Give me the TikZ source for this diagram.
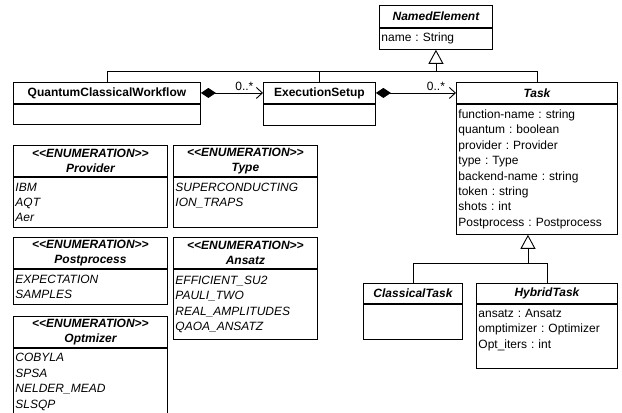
\documentclass[tikz,border=0pt]{standalone}
\usepackage{fontspec}
\setmainfont{Liberation Sans}
\frenchspacing
\usetikzlibrary{arrows.meta,positioning}
\newcommand{\estereotipo}[1]{<\kern0pt<#1>\kern0pt>}
\tikzset{
    umltitle/.style={draw,anchor=north west,inner sep=0pt,minimum height=21bp,align=center,font=\bfseries},
    umlabstract/.style={umltitle,font=\bfseries\itshape},
    umlenum/.style={umltitle,minimum height=31bp,font=\bfseries\itshape},
    umlattrs/.style={draw,below=0pt of #1,inner xsep=2bp,inner ysep=2bp,align=left},
    umlitems/.style={umlattrs=#1,font=\itshape},
    composicion/.style={draw,{Diamond[length=15bp,width=10bp]}-{Straight Barb[length=6bp,width=11bp]}},
    herencia/.style={draw,-{Triangle[open,length=14bp,width=15bp,fill=white]}},
    mult/.style={above,inner sep=1.5bp},
}
\begin{document}
\begin{tikzpicture}[
    x=1bp, y=-1bp, line width=0.9bp,
    every node/.style={node font=\fontsize{12bp}{15.4bp}\selectfont},
]
    \useasboundingbox (0,0) rectangle (622,412);
    \node [umlabstract,minimum width=113bp,minimum height=22bp] (ne) at (379,5) {NamedElement};
    \node [umlattrs=ne,text width=109bp,minimum height=21bp] (ne-attrs) {name : String};
    \node [umltitle,minimum width=187bp] (qcw) at (13,82) {QuantumClassicalWorkflow};
    \node [umlattrs=qcw,text width=183bp,minimum height=20bp] (qcw-attrs) {};
    \node [umltitle,minimum width=112bp] (es) at (263,82) {ExecutionSetup};
    \node [umlattrs=es,text width=108bp,minimum height=21bp] (es-attrs) {};
    \node [umlabstract,minimum width=161bp] (task) at (456,82) {Task};
    \node [umlattrs=task,text width=157bp,minimum height=130bp] (task-attrs) {function-name : string\\quantum : boolean\\provider : Provider\\type : Type\\backend-name : string\\token : string\\shots : int\\Postprocess : Postprocess};
    \node [umlenum,minimum width=154bp] (provider) at (13,145) {\estereotipo{ENUMERATION}\\Provider};
    \node [umlitems=provider,text width=150bp,minimum height=50bp] (provider-items) {IBM\\AQT\\Aer};
    \node [umlenum,minimum width=144bp] (type) at (173,145) {\estereotipo{ENUMERATION}\\Type};
    \node [umlitems=type,text width=140bp,minimum height=50bp] (type-items) {SUPERCONDUCTING\\ION\_TRAPS\\\mbox{}};
    \node [umlenum,minimum width=154bp] (postprocess) at (13,237) {\estereotipo{ENUMERATION}\\Postprocess};
    \node [umlitems=postprocess,text width=150bp,minimum height=35bp] (postprocess-items) {EXPECTATION\\SAMPLES};
    \node [umlenum,minimum width=144bp] (ansatz) at (173,237) {\estereotipo{ENUMERATION}\\Ansatz};
    \node [umlitems=ansatz,text width=140bp,minimum height=70bp] (ansatz-items) {EFFICIENT\_SU2\\PAULI\_TWO\\REAL\_AMPLITUDES\\QAOA\_ANSATZ};
    \node [umlenum,minimum width=154bp] (optmizer) at (13,316) {\estereotipo{ENUMERATION}\\Optmizer};
    \node [umlitems=optmizer,text width=150bp,minimum height=67bp] (optmizer-items) {COBYLA\\SPSA\\NELDER\_MEAD\\SLSQP};
    \node [umlabstract,minimum width=99bp,minimum height=20bp] (ct) at (363,283) {ClassicalTask};
    \node [umlattrs=ct,text width=95bp,minimum height=35bp] (ct-attrs) {};
    \node [umlabstract,minimum width=141bp,minimum height=20bp] (ht) at (476,283) {HybridTask};
    \node [umlattrs=ht,text width=137bp,minimum height=64bp] (ht-attrs) {ansatz : Ansatz\\omptimizer : Optimizer\\Opt\_iters : int\\\mbox{}};
    \coordinate (barra) at (0,71);
    \coordinate (barra2) at (0,263);
    \coordinate (task-gen) at ([xshift=-9bp]task-attrs.south);
    \path [draw] (qcw.north) |- (ne-attrs.south |- barra);
    \path [draw] (es.north) |- (ne-attrs.south |- barra);
    \path [draw] (task.north) |- (ne-attrs.south |- barra);
    \path [herencia] (ne-attrs.south |- barra) -- (ne-attrs.south);
    \path [draw] (ct.north) |- (task-gen |- barra2);
    \path [draw] (ht.north) |- (task-gen |- barra2);
    \path [herencia] (task-gen |- barra2) -- (task-gen);
    \path [composicion] (qcw.east) -- node[mult,pos=0.7] {0..*} (es.west);
    \path [composicion] (es.east) -- node[mult,pos=0.75] {0..*} (task.west);
\end{tikzpicture}
\end{document}
